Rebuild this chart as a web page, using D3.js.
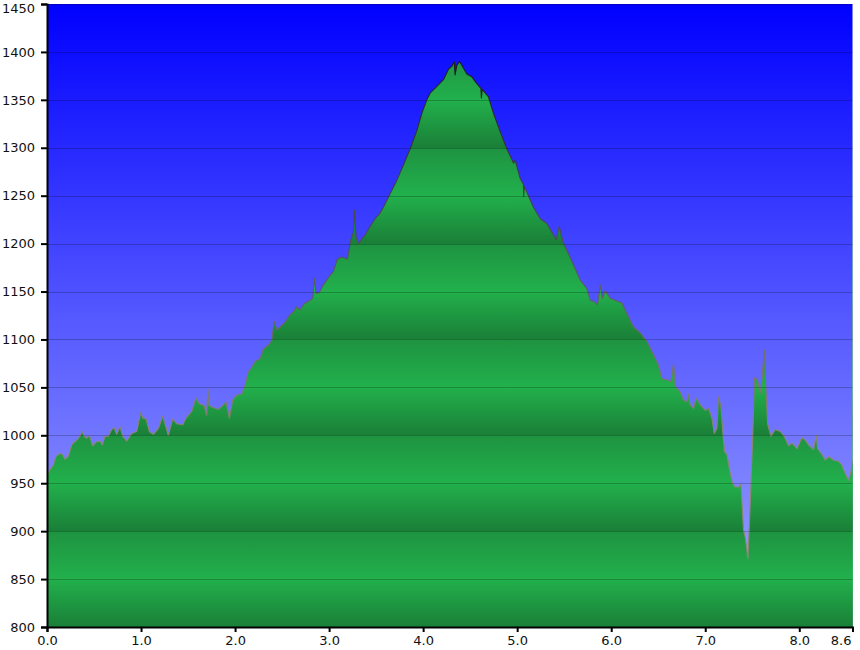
<!DOCTYPE html>
<meta charset="utf-8">
<style>

body {
  margin: 0;
  background: #fff;
}

text {
  font-family: "DejaVu Sans", Verdana, sans-serif;
  font-size: 13px;
  fill: #111;
}

</style>
<svg></svg>
<script src="https://d3js.org/d3.v7.min.js"></script>
<script>

// distance along the track (km) and elevation (m)
var distKm = [
  0.000, 0.014, 0.032, 0.067, 0.096, 0.138, 0.165, 0.191, 0.227, 0.263,
  0.280, 0.316, 0.351, 0.376, 0.394, 0.422, 0.450, 0.486, 0.521, 0.564,
  0.588, 0.617, 0.652, 0.688, 0.713, 0.741, 0.777, 0.805, 0.848, 0.901,
  0.954, 0.997, 1.018, 1.053, 1.088, 1.131, 1.184, 1.231, 1.290, 1.337,
  1.380, 1.444, 1.479, 1.539, 1.585, 1.620, 1.670, 1.699, 1.710, 1.723,
  1.769, 1.822, 1.869, 1.904, 1.939, 1.976, 2.018, 2.071, 2.106, 2.141,
  2.178, 2.213, 2.266, 2.301, 2.354, 2.390, 2.415, 2.444, 2.479, 2.532,
  2.578, 2.620, 2.656, 2.691, 2.734, 2.798, 2.827, 2.840, 2.862, 2.897,
  2.939, 3.003, 3.046, 3.088, 3.135, 3.195, 3.231, 3.259, 3.269, 3.287,
  3.312, 3.348, 3.383, 3.436, 3.489, 3.535, 3.578, 3.649, 3.720, 3.790,
  3.862, 3.933, 3.986, 4.039, 4.074, 4.146, 4.216, 4.269, 4.305, 4.330,
  4.340, 4.358, 4.386, 4.401, 4.429, 4.465, 4.518, 4.571, 4.614, 4.620,
  4.628, 4.695, 4.748, 4.819, 4.890, 4.961, 4.979, 5.032, 5.066, 5.070,
  5.075, 5.173, 5.245, 5.316, 5.369, 5.415, 5.447, 5.486, 5.529, 5.599,
  5.670, 5.741, 5.777, 5.830, 5.854, 5.883, 5.907, 5.936, 5.989, 6.043,
  6.114, 6.167, 6.237, 6.309, 6.380, 6.450, 6.503, 6.539, 6.593, 6.635,
  6.663, 6.681, 6.734, 6.769, 6.805, 6.819, 6.840, 6.876, 6.904, 6.947,
  7.000, 7.035, 7.071, 7.096, 7.124, 7.141, 7.167, 7.188, 7.205, 7.231,
  7.266, 7.290, 7.319, 7.354, 7.380, 7.407, 7.426, 7.454, 7.479, 7.507,
  7.524, 7.556, 7.585, 7.603, 7.628, 7.646, 7.663, 7.699, 7.745, 7.798,
  7.840, 7.886, 7.922, 7.976, 8.029, 8.064, 8.099, 8.152, 8.181, 8.195,
  8.241, 8.277, 8.312, 8.365, 8.418, 8.452, 8.489, 8.524, 8.550, 8.564,
  8.570
];

var elevM = [
   962,  961,  964,  969,  978,  981,  980,  975,  978,  990,
   992,  995,  999, 1004,  999,  997, 1000,  989,  993,  994,
   990,  999,  999, 1006, 1008, 1001, 1009,  999,  994, 1002,
  1004, 1024, 1018, 1017, 1004, 1001, 1007, 1020, 1000, 1017,
  1012, 1011, 1018, 1025, 1039, 1033, 1031, 1021, 1049, 1031,
  1029, 1027, 1031, 1035, 1018, 1037, 1042, 1043, 1052, 1066,
  1071, 1077, 1080, 1090, 1094, 1099, 1119, 1110, 1113, 1118,
  1125, 1129, 1134, 1131, 1137, 1141, 1143, 1164, 1148, 1149,
  1157, 1166, 1171, 1184, 1186, 1184, 1204, 1212, 1235, 1207,
  1200, 1205, 1209, 1218, 1226, 1231, 1238, 1252, 1266, 1282,
  1299, 1318, 1336, 1350, 1357, 1364, 1371, 1382, 1385, 1390,
  1376, 1386, 1390, 1388, 1383, 1377, 1374, 1367, 1362, 1352,
  1361, 1353, 1336, 1317, 1299, 1284, 1287, 1268, 1262, 1249,
  1260, 1238, 1226, 1221, 1212, 1204, 1218, 1202, 1193, 1178,
  1162, 1153, 1141, 1139, 1136, 1157, 1143, 1151, 1143, 1141,
  1138, 1127, 1113, 1107, 1098, 1084, 1073, 1059, 1058, 1056,
  1075, 1051, 1045, 1037, 1035, 1043, 1032, 1028, 1039, 1032,
  1026, 1028, 1018, 1002, 1007, 1040, 1030, 1002,  983,  980,
   960,  950,  946,  946,  949,  901,  893,  871,  929, 1006,
  1060, 1058, 1044, 1058, 1089, 1047, 1012,  999, 1006, 1004,
   999,  989,  992,  986,  998,  995,  990,  985, 1000,  986,
   980,  974,  978,  974,  973,  969,  960,  953,  962,  974,
  1480
];

var xTickValues = [0, 1, 2, 3, 4, 5, 6, 7, 8];
var xEndLabel = "8.6";
var yTickValues = d3.range(800, 1451, 50);

var width = 860,
    height = 650;

var plotLeft = 47, plotRight = 852.5, plotTop = 4, plotBottom = 627;

var x = d3.scaleLinear()
    .domain([0, 8.566])
    .range([plotLeft, plotRight]);

var y = d3.scaleLinear()
    .domain([800, 1450])
    .range([plotBottom, plotTop]);

var data = distKm.map(function(d, i) { return {km: d, ele: elevM[i]}; });

var svg = d3.select("svg")
    .attr("width", width)
    .attr("height", height);

var defs = svg.append("defs");

// sky: deep blue at the top fading to a pale lavender blue
var sky = defs.append("linearGradient")
    .attr("id", "sky")
    .attr("x1", 0).attr("y1", 0).attr("x2", 0).attr("y2", 1);
sky.append("stop").attr("offset", "0%").attr("stop-color", "rgb(0,0,255)");
sky.append("stop").attr("offset", "50%").attr("stop-color", "rgb(84,88,255)");
sky.append("stop").attr("offset", "100%").attr("stop-color", "rgb(160,166,255)");

// ground: repeating bands, one period per 100 m
var ground = defs.append("linearGradient")
    .attr("id", "ground")
    .attr("gradientUnits", "userSpaceOnUse")
    .attr("spreadMethod", "repeat")
    .attr("x1", 0).attr("x2", 0)
    .attr("y1", y(1450)).attr("y2", y(1350));
ground.append("stop").attr("offset", 0).attr("stop-color", "#22b04c");
ground.append("stop").attr("offset", 0.5).attr("stop-color", "#1a7f37");
ground.append("stop").attr("offset", 0.5).attr("stop-color", "#1e9341");
ground.append("stop").attr("offset", 1).attr("stop-color", "#22b04c");

// outline: dark near the summit, greyish lower down
var edge = defs.append("linearGradient")
    .attr("id", "edge")
    .attr("gradientUnits", "userSpaceOnUse")
    .attr("x1", 0).attr("x2", 0)
    .attr("y1", y(1400)).attr("y2", y(1000));
edge.append("stop").attr("offset", 0).attr("stop-color", "#1a1a1a");
edge.append("stop").attr("offset", 0.45).attr("stop-color", "#4a4a55");
edge.append("stop").attr("offset", 1).attr("stop-color", "#8a8674");

defs.append("clipPath")
    .attr("id", "plot")
  .append("rect")
    .attr("x", plotLeft)
    .attr("y", plotTop)
    .attr("width", plotRight - plotLeft + 0.5)
    .attr("height", plotBottom - plotTop);

svg.append("rect")
    .attr("x", plotLeft)
    .attr("y", plotTop)
    .attr("width", plotRight - plotLeft)
    .attr("height", plotBottom - plotTop)
    .attr("fill", "url(#sky)");

var plot = svg.append("g")
    .attr("clip-path", "url(#plot)");

var area = d3.area()
    .x(function(d) { return x(d.km); })
    .y0(y(800))
    .y1(function(d) { return y(d.ele); });

var line = d3.line()
    .x(function(d) { return x(d.km); })
    .y(function(d) { return y(d.ele); });

plot.append("path")
    .datum(data)
    .attr("d", area)
    .attr("fill", "url(#ground)");

plot.append("path")
    .datum(data.slice(0, data.length - 1))
    .attr("d", line)
    .attr("fill", "none")
    .attr("stroke", "url(#edge)")
    .attr("stroke-width", 1.1)
    .attr("stroke-linejoin", "round");

// grid lines across sky and ground
plot.append("g")
  .selectAll("line")
  .data(yTickValues)
  .enter().append("line")
    .attr("x1", plotLeft)
    .attr("x2", plotRight)
    .attr("y1", function(d) { return Math.round(y(d)) + 0.5; })
    .attr("y2", function(d) { return Math.round(y(d)) + 0.5; })
    .attr("stroke", "rgba(0,0,0,0.22)")
    .attr("stroke-width", 1);

// axes
var yAxis = svg.append("g")
    .attr("transform", "translate(" + plotLeft + ",0)")
    .call(d3.axisLeft(y)
      .tickValues(yTickValues)
      .tickSize(6)
      .tickPadding(6)
      .tickFormat(d3.format("d")));

var xAxis = svg.append("g")
    .attr("transform", "translate(0," + plotBottom + ")")
    .call(d3.axisBottom(x)
      .tickValues(xTickValues)
      .tickSize(5)
      .tickPadding(4)
      .tickFormat(d3.format(".1f")));

[yAxis, xAxis].forEach(function(g) {
  g.select(".domain").attr("stroke", "#000").attr("stroke-width", 2);
  g.selectAll(".tick line").attr("stroke", "#000").attr("stroke-width", 2);
  g.selectAll("text")
      .attr("fill", "#111")
      .attr("font-family", "\"DejaVu Sans\", Verdana, sans-serif")
      .attr("font-size", 13);
});

// top label nudged down so it stays inside the picture
yAxis.selectAll(".tick text")
    .filter(function(d) { return d === 1450; })
    .attr("y", 4);

xAxis.append("text")
    .attr("x", plotRight - 1)
    .attr("y", 9)
    .attr("dy", "0.71em")
    .attr("text-anchor", "end")
    .attr("fill", "#111")
    .attr("font-family", "\"DejaVu Sans\", Verdana, sans-serif")
    .attr("font-size", 13)
    .text(xEndLabel);

</script>
